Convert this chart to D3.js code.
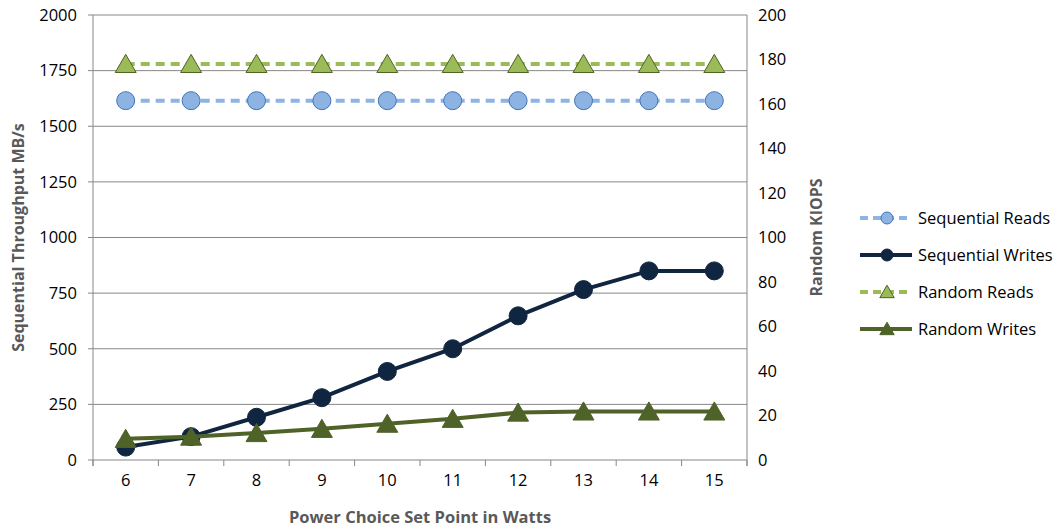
<!DOCTYPE html>
<html>
<head>
<meta charset="utf-8">
<script src="https://cdn.jsdelivr.net/npm/d3@7"></script>
<style>
  body { margin: 0; background: #fff; }
  text { font-family: "Open Sans", "Liberation Sans", sans-serif; }
</style>
</head>
<body>
<div id="chart"></div>
<script>
const watts = [6, 7, 8, 9, 10, 11, 12, 13, 14, 15];
const seqReads = [1615, 1615, 1615, 1615, 1615, 1615, 1615, 1615, 1615, 1615];
const seqWrites = [58, 105, 192, 280, 398, 500, 648, 766, 850, 850];
const randReads = [178, 178, 178, 178, 178, 178, 178, 178, 178, 178];
const randWrites = [9.5, 10.5, 12.1, 14, 16.3, 18.5, 21.3, 21.8, 21.8, 21.8];
const leftTicks = [0, 250, 500, 750, 1000, 1250, 1500, 1750, 2000];
const rightTicks = [0, 20, 40, 60, 80, 100, 120, 140, 160, 180, 200];

const series = [
  {name: "Sequential Reads", values: seqReads, axis: "left", line: "#8db4e2", dash: "9,6", marker: "circle", fill: "#8db3e2", stroke: "#3f74b8"},
  {name: "Sequential Writes", values: seqWrites, axis: "left", line: "#10253f", dash: null, marker: "circle", fill: "#10253f", stroke: "#10253f"},
  {name: "Random Reads", values: randReads, axis: "right", line: "#9bbb59", dash: "9,6", marker: "triangle", fill: "#9bbb59", stroke: "#4f6228"},
  {name: "Random Writes", values: randWrites, axis: "right", line: "#4f6228", dash: null, marker: "triangle", fill: "#4f6228", stroke: "#4f6228"}
];

const width = 1064, height = 529;
const margin = {top: 15, right: 317, bottom: 69, left: 93};
const w = width - margin.left - margin.right;
const h = height - margin.top - margin.bottom;

const svg = d3.select("#chart").append("svg")
  .attr("width", width)
  .attr("height", height);

const g = svg.append("g")
  .attr("transform", "translate(" + margin.left + "," + margin.top + ")");

const x = d3.scaleBand().domain(watts).range([0, w]);
const yL = d3.scaleLinear().domain([0, 2000]).range([h, 0]);
const yR = d3.scaleLinear().domain([0, 200]).range([h, 0]);

const gridColor = "#878787";

// gridlines
g.selectAll(".grid")
  .data(leftTicks)
  .enter()
  .append("line")
  .attr("x1", -5)
  .attr("x2", w)
  .attr("y1", d => yL(d))
  .attr("y2", d => yL(d))
  .style("stroke", gridColor)
  .style("stroke-width", 1);

// axes
const xAxis = g.append("g")
  .attr("transform", "translate(0," + h + ")")
  .call(d3.axisBottom(x).tickSize(0).tickPadding(14));
xAxis.select(".domain").remove();

g.selectAll(".xtick")
  .data(d3.range(watts.length + 1))
  .enter()
  .append("line")
  .attr("x1", i => i * x.bandwidth())
  .attr("x2", i => i * x.bandwidth())
  .attr("y1", h)
  .attr("y2", h + 6)
  .style("stroke", gridColor);

const yAxisL = g.append("g")
  .call(d3.axisLeft(yL).tickValues(leftTicks).tickFormat(d3.format("d")).tickSize(0).tickPadding(16));
yAxisL.select(".domain").remove();

const yAxisR = g.append("g")
  .attr("transform", "translate(" + w + ",0)")
  .call(d3.axisRight(yR).tickValues(rightTicks).tickFormat(d3.format("d")).tickSize(0).tickPadding(11));
yAxisR.select(".domain").remove();

g.selectAll(".tick text")
  .style("font-size", "16.5px")
  .style("fill", "#000");

g.append("line").attr("x1", 0).attr("x2", 0).attr("y1", 0).attr("y2", h + 6).style("stroke", gridColor);
g.append("line").attr("x1", w).attr("x2", w).attr("y1", 0).attr("y2", h + 6).style("stroke", gridColor);

// axis titles
svg.append("text")
  .attr("transform", "translate(24," + (margin.top + h / 2) + ") rotate(-90)")
  .attr("text-anchor", "middle")
  .style("font-size", "16px")
  .style("font-weight", "bold")
  .style("fill", "#595959")
  .text("Sequential Throughput MB/s");

svg.append("text")
  .attr("transform", "translate(822," + (margin.top + h / 2) + ") rotate(-90)")
  .attr("text-anchor", "middle")
  .style("font-size", "16px")
  .style("font-weight", "bold")
  .style("fill", "#595959")
  .text("Random KIOPS");

svg.append("text")
  .attr("x", margin.left + w / 2)
  .attr("y", 523)
  .attr("text-anchor", "middle")
  .style("font-size", "16.5px")
  .style("font-weight", "bold")
  .style("fill", "#595959")
  .text("Power Choice Set Point in Watts");

const triangle = d3.symbol().type(d3.symbolTriangle);

function drawMarker(sel, s, size) {
  if (s.marker === "circle") {
    sel.append("circle")
      .attr("r", size === "big" ? 9 : 6)
      .style("fill", s.fill)
      .style("stroke", s.stroke)
      .style("stroke-width", 1);
  } else {
    // shift so the box centre (not the centroid) sits on the point
    sel.append("path")
      .attr("d", triangle.size(size === "big" ? 190 : 90)())
      .attr("transform", "translate(0," + (size === "big" ? 2.5 : 1.5) + ")")
      .style("fill", s.fill)
      .style("stroke", s.stroke)
      .style("stroke-width", 1);
  }
}

const cx = d => x(d) + x.bandwidth() / 2;

series.forEach(s => {
  const y = s.axis === "left" ? yL : yR;
  const line = d3.line()
    .x((d, i) => cx(watts[i]))
    .y(d => y(d));

  g.append("path")
    .datum(s.values)
    .attr("d", line)
    .style("fill", "none")
    .style("stroke", s.line)
    .style("stroke-width", 4)
    .style("stroke-dasharray", s.dash);

  g.selectAll(null)
    .data(s.values)
    .enter()
    .append("g")
    .attr("transform", (d, i) => "translate(" + cx(watts[i]) + "," + y(d) + ")")
    .each(function() { drawMarker(d3.select(this), s, "big"); });
});

// legend
const legend = svg.selectAll(".legend")
  .data(series)
  .enter()
  .append("g")
  .attr("class", "legend")
  .attr("transform", (d, i) => "translate(860," + (218 + i * 37) + ")");

legend.append("line")
  .attr("x1", 0)
  .attr("x2", 52)
  .style("stroke", d => d.line)
  .style("stroke-width", 4)
  .style("stroke-dasharray", d => d.dash ? "8,5" : null);

legend.append("g")
  .attr("transform", "translate(27,0)")
  .each(function(d) { drawMarker(d3.select(this), d, "small"); });

legend.append("text")
  .attr("x", 58)
  .attr("y", 0)
  .attr("dy", "0.35em")
  .style("font-size", "16.5px")
  .style("fill", "#000")
  .text(d => d.name);
</script>
</body>
</html>
